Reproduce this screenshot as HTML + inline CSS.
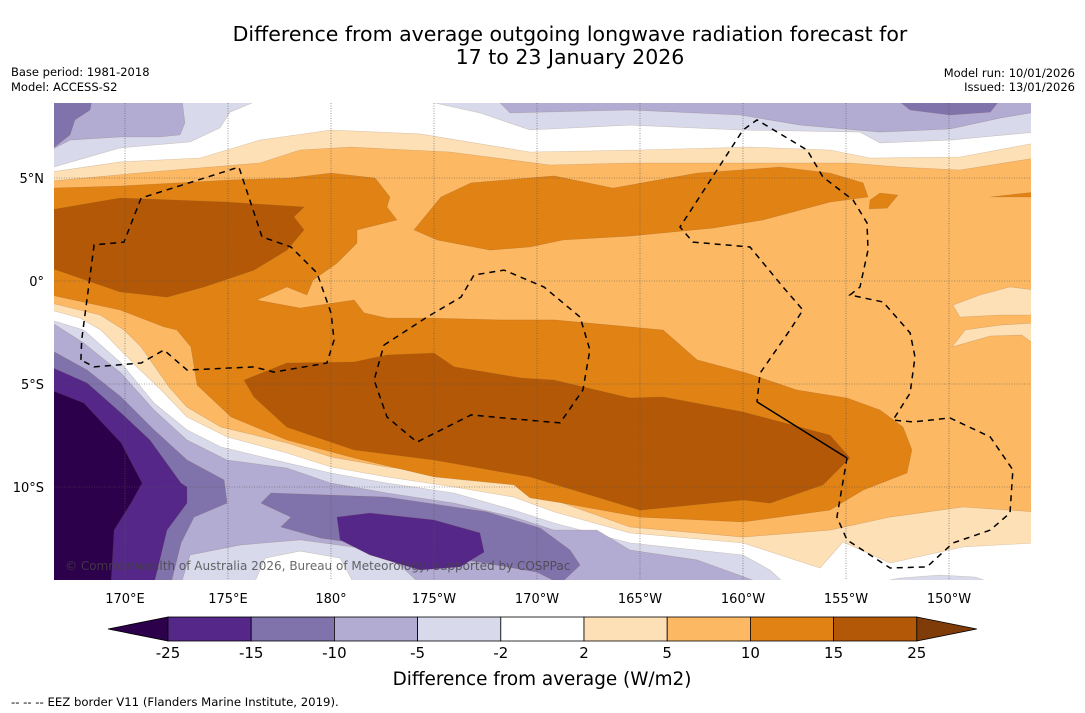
<!DOCTYPE html>
<html><head><meta charset="utf-8"><style>
body{margin:0;background:#fff;}
svg{display:block;font-family:"DejaVu Sans","Liberation Sans",sans-serif;}
</style></head><body>
<svg id="s" width="1085" height="713" viewBox="0 0 1085 713">
<text x="570" y="41" text-anchor="middle" font-size="20.5">Difference from average outgoing longwave radiation forecast for</text>
<text x="570" y="64" text-anchor="middle" font-size="20.5">17 to 23 January 2026</text>
<text x="11" y="76" font-size="11.5">Base period: 1981-2018</text>
<text x="11" y="91" font-size="11.5">Model: ACCESS-S2</text>
<text x="1075" y="77" font-size="11.5" text-anchor="end">Model run: 10/01/2026</text>
<text x="1075" y="91" font-size="11.5" text-anchor="end">Issued: 13/01/2026</text>
<defs><clipPath id="mc"><rect x="54" y="103" width="977" height="477"/></clipPath></defs>
<g id="map" clip-path="url(#mc)"></g>
<g id="grid"></g>
<g id="ticks"></g>
<text x="65" y="570" font-size="12" fill="#444" fill-opacity="0.8">© Commonwealth of Australia 2026, Bureau of Meteorology, supported by COSPPac</text>
<g id="cbar"></g>
<text x="542" y="685" text-anchor="middle" font-size="18.4">Difference from average (W/m2)</text>
<text x="11" y="706" font-size="11.7">--  --  -- EEZ border V11 (Flanders Marine Institute, 2019).</text>
</svg>
<script>
const cbLabels=["-25","-15","-10","-5","-2","2","5","10","15","25"];
const cbColors=["#2d004b","#542788","#8073ac","#b2abd2","#d8daeb","#ffffff","#fee0b6","#fdb863","#e08214","#b35806","#7f3b08"];
const lonTicks=[170,175,180,185,190,195,200,205,210];
const lonLabels=["170°E","175°E","180°","175°W","170°W","165°W","160°W","155°W","150°W"];
const latTicks=[5,0,-5,-10];
const latLabels=["5°N","0°","5°S","10°S"];
// contour polygons [lon(0-360), lat]
const peachS=[[166.4,-1.07],[168.79,-1.65],[169.95,-2.38],[170.78,-3.2],[172.14,-5.15],[173.01,-6.12],[174.66,-7.09],[177.86,-7.86],[180,-8.54],[182.72,-9.03],[185,-9.32],[188.88,-9.81],[190.83,-10.63],[194.51,-11.94],[200,-12.43],[204.22,-12.09],[207.14,-11.46],[210.68,-10.97],[214.2,-11.21],[214.2,-14.7],[166.4,-14.7]];
const whiteS=[[166.4,-1.41],[167.82,-1.8],[168.83,-2.38],[170.58,-4.17],[171.75,-5.29],[173.01,-6.6],[174.95,-7.57],[177.86,-8.35],[180,-9.03],[182.72,-9.51],[185.97,-10],[188.88,-10.49],[190.83,-11.21],[194.51,-12.23],[200,-12.72],[203.74,-13.93],[204.85,-12.67],[207.14,-13.69],[210.68,-12.91],[214.2,-12.72],[214.2,-14.7],[166.4,-14.7]];
const lavS=[[166.4,-1.89],[168.0,-2.38],[169.81,-3.98],[171.41,-5.92],[173.01,-7.23],[174.66,-8.06],[177.86,-8.83],[180,-9.32],[182.72,-9.81],[185.97,-10.29],[188.88,-11.12],[190.83,-11.75],[194.51,-12.72],[200,-13.3],[201.31,-14.03],[202.04,-14.7],[166.4,-14.7]];
const lavSE=[[206.17,-14.7],[207.62,-14.42],[209.56,-14.27],[211.26,-14.37],[212.23,-14.7]];
const lilacS=[[166.4,-1.99],[168.0,-3.01],[169.81,-4.47],[171.41,-6.26],[173.01,-7.72],[174.95,-8.69],[177.86,-9.08],[180,-9.81],[182.72,-10.29],[185.97,-10.78],[188.88,-11.46],[190.83,-12.09],[192.91,-12.09],[194.51,-13.06],[197.77,-13.54],[200.97,-14.7],[166.4,-14.7]];
const lavPatch=[[172.72,-14.7],[173.16,-13.3],[175.58,-12.82],[178.5,-12.57],[181.41,-12.96],[183.35,-13.79],[184.32,-14.7]];
const whitePatch=[[176.26,-14.7],[176.8,-13.45],[178.5,-13.11],[180.44,-13.45],[181.12,-14.7]];
const midPatch=[[176.6,-10.78],[177.09,-10.29],[182.72,-10.49],[187.57,-11.21],[190.15,-11.99],[191.6,-13.06],[192.09,-13.79],[191.12,-14.7],[190,-14.13],[184.37,-13.16],[179.51,-12.48],[177.57,-11.94],[178.06,-11.46]];
const deepPatch=[[180.29,-11.46],[181.89,-11.26],[185,-11.6],[187.23,-12.23],[187.43,-13.16],[186.26,-13.88],[184.32,-14.03],[181.89,-13.3],[180.44,-12.57]];
const midW=[[166.4,-3.35],[168.16,-4.32],[169.81,-5.63],[171.41,-7.23],[173.01,-8.69],[174.81,-9.66],[174.95,-10.78],[173.35,-11.46],[172.72,-12.72],[172.23,-14.7],[166.4,-14.7]];
const deepW=[[166.4,-4.17],[168.16,-4.95],[169.81,-6.41],[171.21,-7.72],[172.72,-9.81],[173.01,-10],[173.01,-10.78],[172.04,-12.09],[171.41,-14.7],[166.4,-14.7]];
const darkW=[[166.4,-5.29],[168.0,-5.92],[169.81,-7.86],[170.83,-9.81],[170.29,-10.78],[169.47,-12.09],[169.32,-14.7],[166.4,-14.7]];
const peachN=[[166.4,4.85],[171.21,5.29],[176.55,5.73],[178.5,6.36],[180.92,6.5],[185.78,6.26],[190.63,5.63],[194.51,5.73],[205.19,5.73],[207.62,5.53],[210.53,5.39],[214.2,5.97],[214.2,8.8],[166.4,8.8]];
const whiteN=[[166.4,5.29],[169.76,5.78],[173.64,5.97],[176.55,6.84],[180,7.33],[184.32,7.14],[189.66,6.26],[195,6.36],[200.34,6.5],[204.22,6.36],[206.17,5.97],[210.53,6.02],[214.2,6.7],[214.2,8.8],[166.4,8.8]];
const lavN=[[166.4,5.49],[169.76,6.46],[173.16,6.75],[174.61,7.43],[175.1,8.2],[176.55,8.8],[184.32,8.8],[187.23,8.16],[189.66,7.33],[194.51,7.57],[199.85,7.33],[205.68,7.23],[206.65,6.7],[210.05,6.84],[214.2,7.23],[214.2,8.8],[166.4,8.8]];
const lilacNW=[[166.4,6.36],[167.33,6.84],[169.76,6.99],[171.7,6.99],[172.67,7.09],[172.91,7.67],[172.77,8.8],[166.4,8.8]];
const lilacNE=[[188.06,8.8],[188.69,8.16],[194.51,8.3],[199.85,8.06],[202.77,7.57],[206.65,7.23],[210.05,7.38],[212.48,7.91],[214.2,8.2],[214.2,8.8]];
const midNW=[[166.4,6.36],[167.33,7.09],[167.57,7.82],[168.3,8.3],[168.4,8.8],[166.4,8.8]];
const midNE=[[207.48,8.8],[208.11,8.3],[210.05,8.06],[212,8.2],[212.48,8.8]];
const orangeMain=[[166.4,4.51],[169.76,4.61],[175,4.9],[178.01,5],[180,5.24],[182.14,5],[182.86,4.08],[182.72,3.59],[183.2,2.96],[181.26,2.48],[181.26,1.84],[180.29,0.87],[179.13,0.05],[178.83,-0.68],[177.86,-0.29],[176.4,-0.92],[178.5,-1.31],[181.12,-0.92],[181.6,-1.55],[182.72,-1.8],[184.85,-1.8],[188.2,-1.89],[190.83,-1.89],[194.51,-2.23],[196.12,-2.38],[197.77,-3.83],[200.19,-4.47],[202.62,-5.29],[205.05,-5.68],[206.65,-6.26],[207.77,-7.09],[208.2,-8.2],[207.96,-9.32],[205.83,-10.15],[204.22,-11.12],[200,-11.7],[195,-11.46],[191.26,-10.78],[189.66,-10.53],[188.88,-9.9],[185,-9.51],[181.12,-8.59],[177.86,-7.72],[175.15,-6.6],[173.5,-5.05],[173.2,-3.2],[172.52,-2.38],[171.89,-2.23],[169.76,-1.41],[166.4,-0.68]];
const orangeNE=[[184.03,2.48],[185.34,4.08],[186.8,4.76],[190.83,5.1],[193.69,4.51],[197.77,5.24],[201.8,5.53],[204.22,5.24],[205.83,4.76],[206.07,4.08],[204.22,3.83],[200.97,2.96],[198.54,2.57],[194.51,2.18],[191.26,1.99],[189.66,1.65],[187.72,1.5],[185.15,1.99]];
const orangeDot=[[206.17,3.93],[206.65,4.27],[207.52,4.17],[207,3.54],[206.12,3.5]];
const orangeStrip=[[212,4.08],[214.2,4.32],[214.2,4.08]];
const brownN=[[166.4,3.45],[169.76,4.03],[174.95,3.83],[178.69,3.59],[178.2,3.11],[178.69,2.48],[177.86,1.5],[176.26,0.53],[173.83,-0.29],[172.04,-0.78],[169.76,-0.53],[166.4,0.63]];
const brownS=[[175.78,-4.81],[177.86,-3.98],[181.12,-3.93],[182.72,-3.59],[185,-3.5],[185.97,-4.17],[189.22,-4.71],[190.83,-4.81],[194.51,-5.68],[196.12,-5.63],[200,-6.36],[204.22,-7.48],[205.19,-8.59],[203.88,-9.9],[201.31,-10.78],[200,-10.63],[195,-11.12],[189.66,-9.51],[185,-8.69],[181.12,-8.2],[177.86,-7.09],[176.26,-5.63]];
const peachE1=[[210.19,-1.17],[211.5,-0.68],[212.96,-0.29],[214.2,-0.44],[214.2,-1.65],[212.48,-1.65],[210.53,-1.75]];
const peachE2=[[210.15,-3.2],[210.78,-2.38],[212.48,-2.14],[214.2,-2.04],[214.2,-3.11],[213.54,-2.62],[212,-2.67]];
const eezA=[[167.86,-3.83],[167.9,-2.86],[168.5,1.75],[169.95,1.89],[170.78,4.03],[175.53,5.53],[176.65,2.14],[178.06,1.65],[179.32,0.39],[180,-1.55],[180.15,-2.86],[179.8,-3.98],[177.23,-4.42],[176.26,-4.17],[173.01,-4.32],[171.89,-3.35],[170.78,-3.98],[168.5,-4.17],[167.86,-3.83]];
const eezB=[[182.57,-3.11],[184.66,-1.75],[186.31,-0.78],[186.94,0.29],[188.4,0.53],[190.34,-0.29],[192.09,-1.75],[192.57,-3.35],[192.23,-5.29],[191.12,-6.89],[188.4,-6.65],[186.8,-6.5],[184.17,-7.82],[182.72,-6.6],[182.09,-4.81],[182.57,-3.11]];
const eezC=[[205.05,-8.59],[204.56,-11.46],[205.05,-12.57],[207.14,-13.93],[208.93,-13.88],[210.19,-12.72],[212,-12.09],[212.96,-11.26],[213.1,-9.17],[212,-7.57],[210.05,-6.65],[208.25,-6.84],[207.28,-6.75],[208.11,-5.44],[208.35,-3.69],[208.11,-2.52],[206.8,-1.02],[205.19,-0.68],[205.68,-0.29],[206.07,1.5],[206.02,2.82],[205.34,3.93],[203.88,5.05],[203.11,6.36],[200.68,7.82],[200,7.33],[196.94,2.62],[197.57,1.89],[200.34,1.65],[201.94,-0.29],[202.91,-1.41],[202.28,-2.38],[200.83,-4.47],[200.68,-5.87]];
const eezSolid=[[200.68,-5.87],[205.05,-8.59]];

const NS="http://www.w3.org/2000/svg";
const X=lon=>125+(lon-170)*20.6;
const Y=lat=>281-lat*20.6;
const pts=a=>a.map(p=>X(p[0]).toFixed(1)+","+Y(p[1]).toFixed(1)).join(" ");
const map=document.getElementById('map');
const bg=document.createElementNS(NS,'rect');
bg.setAttribute('x',54);bg.setAttribute('y',103);bg.setAttribute('width',977);bg.setAttribute('height',477);bg.setAttribute('fill',cbColors[7]);


map.appendChild(bg);
const layers=[
 [peachS,6,'contour-south-2-to-5'],[whiteS,5,'contour-south-neutral'],[lavS,4,'contour-south-minus2-to-minus5'],[lavSE,4,'contour-southeast-minus2-to-minus5'],
 [lilacS,3,'contour-south-minus5-to-minus10'],[lavPatch,4,'contour-patch-minus2-to-minus5'],[whitePatch,5,'contour-patch-neutral'],
 [midPatch,2,'contour-patch-minus10-to-minus15'],[deepPatch,1,'contour-patch-minus15-to-minus25'],
 [midW,2,'contour-west-minus10-to-minus15'],[deepW,1,'contour-west-minus15-to-minus25'],[darkW,0,'contour-west-below-minus25'],
 [peachN,6,'contour-north-2-to-5'],[whiteN,5,'contour-north-neutral'],[lavN,4,'contour-north-minus2-to-minus5'],
 [lilacNW,3,'contour-northwest-minus5-to-minus10'],[lilacNE,3,'contour-northeast-minus5-to-minus10'],[midNW,2,'contour-northwest-minus10-to-minus15'],[midNE,2,'contour-northeast-minus10-to-minus15'],
 [orangeMain,8,'contour-main-10-to-15'],[orangeNE,8,'contour-northeast-10-to-15'],[orangeDot,8,'contour-small-10-to-15'],[orangeStrip,8,'contour-strip-10-to-15'],
 [brownN,9,'contour-north-15-to-25'],[brownS,9,'contour-south-15-to-25'],[peachE1,6,'contour-east-patch1-2-to-5'],[peachE2,6,'contour-east-patch2-2-to-5']
];
layers.forEach(l=>{
 const p=document.createElementNS(NS,'polygon');
 p.setAttribute('points',pts(l[0]));
 p.setAttribute('fill',cbColors[l[1]]);
 p.setAttribute('stroke','rgba(120,80,40,0.25)');
 p.setAttribute('stroke-width','0.6');
 
 
 map.appendChild(p);
});
[[eezA,'eez-border-west'],[eezB,'eez-border-central'],[eezC,'eez-border-east']].forEach(e=>{
 const p=document.createElementNS(NS,'polyline');
 p.setAttribute('points',pts(e[0]));
 p.setAttribute('fill','none');p.setAttribute('stroke','#000');p.setAttribute('stroke-width','1.5');p.setAttribute('stroke-dasharray','6,5');
 
 
 map.appendChild(p);
});
const sl=document.createElementNS(NS,'polyline');
sl.setAttribute('points',pts(eezSolid));sl.setAttribute('fill','none');sl.setAttribute('stroke','#000');sl.setAttribute('stroke-width','1.5');


map.appendChild(sl);

const grid=document.getElementById('grid'),ticks=document.getElementById('ticks');
lonTicks.forEach((lon,i)=>{
 const l=document.createElementNS(NS,'line');
 l.setAttribute('x1',X(lon));l.setAttribute('x2',X(lon));l.setAttribute('y1',103);l.setAttribute('y2',580);
 l.setAttribute('stroke','#555');l.setAttribute('stroke-width','0.6');l.setAttribute('stroke-dasharray','1,1.5');
 
 
 grid.appendChild(l);
 const t=document.createElementNS(NS,'text');
 t.setAttribute('x',X(lon));t.setAttribute('y',603);t.setAttribute('text-anchor','middle');t.setAttribute('font-size','13');
 t.textContent=lonLabels[i];
 
 
 ticks.appendChild(t);
});
latTicks.forEach((lat,i)=>{
 const l=document.createElementNS(NS,'line');
 l.setAttribute('x1',54);l.setAttribute('x2',1031);l.setAttribute('y1',Y(lat));l.setAttribute('y2',Y(lat));
 l.setAttribute('stroke','#555');l.setAttribute('stroke-width','0.6');l.setAttribute('stroke-dasharray','1,1.5');
 
 
 grid.appendChild(l);
 const t=document.createElementNS(NS,'text');
 t.setAttribute('x',44);t.setAttribute('y',Y(lat)+5);t.setAttribute('text-anchor','end');t.setAttribute('font-size','13');
 t.textContent=latLabels[i];
 
 
 ticks.appendChild(t);
});
// colorbar
const cb=document.getElementById('cbar');
const cx0=168,cw=83.2,cy=617,ch=24;
const triL=document.createElementNS(NS,'polygon');
triL.setAttribute('points',`108,${cy+ch/2} ${cx0},${cy} ${cx0},${cy+ch}`);triL.setAttribute('fill',cbColors[0]);triL.setAttribute('stroke','#000');triL.setAttribute('stroke-width','0.8');


cb.appendChild(triL);
for(let i=0;i<9;i++){
 const r=document.createElementNS(NS,'rect');
 r.setAttribute('x',cx0+i*cw);r.setAttribute('y',cy);r.setAttribute('width',cw);r.setAttribute('height',ch);
 r.setAttribute('fill',cbColors[i+1]);r.setAttribute('stroke','#000');r.setAttribute('stroke-width','0.8');
 
 
 cb.appendChild(r);
}
const xe=cx0+9*cw;
const triR=document.createElementNS(NS,'polygon');
triR.setAttribute('points',`${xe},${cy} ${xe+60},${cy+ch/2} ${xe},${cy+ch}`);triR.setAttribute('fill',cbColors[10]);triR.setAttribute('stroke','#000');triR.setAttribute('stroke-width','0.8');


cb.appendChild(triR);
cbLabels.forEach((lab,i)=>{
 const t=document.createElementNS(NS,'text');
 t.setAttribute('x',cx0+i*cw);t.setAttribute('y',658);t.setAttribute('text-anchor','middle');t.setAttribute('font-size','15');
 t.textContent=lab;
 
 
 cb.appendChild(t);
});
</script>
</body></html>
